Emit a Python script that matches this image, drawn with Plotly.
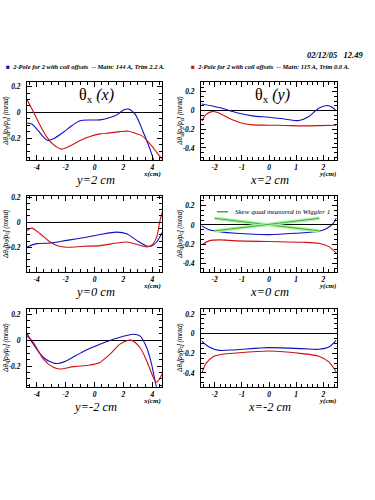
import plotly.graph_objects as go

# ---------------- data ----------------
# Panel 1: theta_x vs x at y = 2 cm
p1_blue_x = [-4.66, -4.33, -3.9, -3.53, -3.23, -2.84, -2.15, -1.57, -1.0, -0.3, 0.4, 1.07, 1.6, 2.0, 2.33, 2.8, 3.37, 3.94, 4.2]
p1_blue_y = [-0.082, -0.09, -0.14, -0.19, -0.218, -0.205, -0.154, -0.103, -0.064, -0.059, -0.058, -0.04, -0.015, 0.018, 0.026, -0.013, -0.154, -0.32, -0.42]
p1_red_x = [-4.66, -4.22, -3.76, -3.3, -2.84, -2.27, -1.69, -1.0, -0.31, 0.38, 1.07, 1.76, 2.33, 2.9, 3.25, 3.6, 4.06, 4.29, 4.66]
p1_red_y = [0.10, 0.005, -0.10, -0.19, -0.25, -0.285, -0.26, -0.218, -0.187, -0.167, -0.159, -0.149, -0.146, -0.165, -0.18, -0.215, -0.275, -0.31, -0.36]

# Panel 2: theta_x vs y at x = 2 cm
p2_blue_x = [-2.47, -1.83, -1.22, -0.61, 0.0, 0.61, 1.1, 1.47, 1.83, 2.14, 2.32, 2.47]
p2_blue_y = [0.07, 0.032, -0.021, -0.057, -0.072, -0.093, -0.107, -0.064, 0.025, 0.053, 0.035, -0.004]
p2_red_x = [-2.47, -2.32, -2.1, -1.89, -1.47, -0.97, -0.61, 0.0, 0.6, 1.22, 1.8, 2.47]
p2_red_y = [-0.115, -0.045, -0.012, -0.021, -0.082, -0.136, -0.154, -0.157, -0.16, -0.164, -0.162, -0.157]

# Panel 3: theta_x vs x at y = 0 cm
p3_blue_x = [-4.66, -3.99, -3.07, -1.92, -0.77, 0.38, 1.53, 2.22, 2.91, 3.6, 3.94, 4.29, 4.66]
p3_blue_y = [-0.198, -0.171, -0.166, -0.145, -0.124, -0.098, -0.079, -0.092, -0.145, -0.19, -0.19, -0.158, -0.085]
p3_red_x = [-4.66, -4.33, -3.76, -3.07, -2.5, -1.92, -0.77, 0.38, 1.53, 2.22, 2.91, 3.6, 3.94, 4.29, 4.52, 4.68]
p3_red_y = [-0.066, -0.047, -0.092, -0.158, -0.19, -0.2, -0.192, -0.187, -0.166, -0.158, -0.176, -0.198, -0.184, -0.119, 0.013, 0.079]

# Panel 4: theta_x vs y at x = 0 cm
p4_blue_x = [-2.47, -2.2, -1.83, -1.22, 0.0, 0.98, 1.83, 2.14, 2.38, 2.47]
p4_blue_y = [-0.01, -0.05, -0.069, -0.086, -0.1, -0.086, -0.066, -0.035, 0.02, 0.07]
p4_red_x = [-2.47, -2.2, -1.83, -1.22, 0.0, 1.22, 1.83, 2.2, 2.47]
p4_red_y = [-0.206, -0.165, -0.155, -0.165, -0.172, -0.179, -0.19, -0.224, -0.29]
skew_x = [-2.0, 1.85]
skew1_y = [0.068, -0.062]
skew2_y = [-0.062, 0.068]

# Panel 5: theta_x vs x at y = -2 cm
p5_blue_x = [-4.66, -4.22, -3.53, -2.84, -2.5, -1.92, -0.77, 0.38, 1.53, 2.68, 3.14, 3.6, 3.94, 4.17, 4.4]
p5_blue_y = [0.051, -0.031, -0.134, -0.177, -0.18, -0.159, -0.087, -0.031, 0.015, 0.046, 0.033, -0.057, -0.185, -0.31, -0.42]
p5_red_x = [-4.66, -4.22, -3.53, -2.84, -2.38, -1.46, -0.31, 0.38, 1.07, 1.76, 2.33, 2.56, 3.14, 3.6, 4.06, 4.24, 4.43, 4.66]
p5_red_y = [0.033, -0.018, -0.146, -0.21, -0.223, -0.205, -0.192, -0.172, -0.108, -0.031, 0.0, 0.0, -0.057, -0.159, -0.288, -0.326, -0.31, -0.262]

# Panel 6: theta_x vs y at x = -2 cm
p6_blue_x = [-2.47, -2.2, -1.83, -1.22, 0.0, 1.22, 1.83, 2.2, 2.47]
p6_blue_y = [-0.075, -0.136, -0.17, -0.163, -0.142, -0.152, -0.159, -0.136, -0.068]
p6_red_x = [-2.47, -2.32, -2.07, -1.71, -1.22, 0.0, 1.22, 1.83, 2.2, 2.47]
p6_red_y = [-0.4, -0.305, -0.237, -0.21, -0.197, -0.177, -0.203, -0.23, -0.288, -0.39]

y_ranges = [[-0.37, 0.24], [-0.53, 0.31], [-0.40, 0.21], [-0.49, 0.30], [-0.36, 0.24], [-0.54, 0.25]]
x_range_left = [-4.66, 4.66]
x_range_right = [-2.5, 2.5]
x_ticks_left = [-4, -2, 0, 2, 4]
x_ticks_right = [-2, -1, 0, 1, 2]
y_ticks_left = [-0.2, 0, 0.2]
y_ticks_right = [-0.4, -0.2, 0, 0.2]
bottom_labels = ["y=2 cm", "x=2 cm", "y=0 cm", "x=0 cm", "y=-2 cm", "x=-2 cm"]
legend_blue = "2-Pole for 2 with coil offsets  -- Main: 144 A, Trim 2.2 A."
legend_red = "2-Pole for 2 with coil offsets  -- Main: 115 A, Trim 0.0 A."
date_text = "02/12/05&nbsp;&nbsp;&nbsp;12.49"
ytitle = "Δθ<sub>x</sub>[p<sub>0</sub>/p<sub>c</sub>] (mrad)"

BLUE = "#1010c0"
RED = "#d01010"
W, H = 375, 500

panels = [
    (p1_blue_x, p1_blue_y, p1_red_x, p1_red_y),
    (p2_blue_x, p2_blue_y, p2_red_x, p2_red_y),
    (p3_blue_x, p3_blue_y, p3_red_x, p3_red_y),
    (p4_blue_x, p4_blue_y, p4_red_x, p4_red_y),
    (p5_blue_x, p5_blue_y, p5_red_x, p5_red_y),
    (p6_blue_x, p6_blue_y, p6_red_x, p6_red_y),
]

col_px = [(27, 162), (201, 337)]
row_px = [(79, 158), (194, 271), (308, 386)]

fig = go.Figure()
layout = {}
annotations = []
tickfont = dict(family="Liberation Serif", size=7.5, color="black", style="italic", weight="bold")

for i, (bx, by, rx, ry) in enumerate(panels):
    r, c = divmod(i, 2)
    n = i + 1
    xa = "x" if n == 1 else f"x{n}"
    ya = "y" if n == 1 else f"y{n}"
    fig.add_trace(go.Scatter(x=bx, y=by, mode="lines", line=dict(color=BLUE, width=1.1, shape="spline", smoothing=0.8),
                             xaxis=xa, yaxis=ya, showlegend=False, hoverinfo="skip"))
    fig.add_trace(go.Scatter(x=rx, y=ry, mode="lines", line=dict(color=RED, width=1.1, shape="spline", smoothing=0.8),
                             xaxis=xa, yaxis=ya, showlegend=False, hoverinfo="skip"))
    if n == 4:
        for sy in (skew1_y, skew2_y):
            fig.add_trace(go.Scatter(x=skew_x, y=sy, mode="lines", line=dict(color="#b4f0ac", width=3.5),
                                     xaxis=xa, yaxis=ya, showlegend=False, hoverinfo="skip"))
            fig.add_trace(go.Scatter(x=skew_x, y=sy, mode="lines", line=dict(color="#30b830", width=1),
                                     xaxis=xa, yaxis=ya, showlegend=False, hoverinfo="skip"))
    x0, x1 = col_px[c]
    y0, y1 = row_px[r]
    left = c == 0
    xk = "xaxis" if n == 1 else f"xaxis{n}"
    yk = "yaxis" if n == 1 else f"yaxis{n}"
    layout[xk] = dict(
        domain=[x0 / W, x1 / W], anchor=ya, range=x_range_left if left else x_range_right,
        tickvals=x_ticks_left if left else x_ticks_right,
        ticktext=[str(v) for v in (x_ticks_left if left else x_ticks_right)],
        ticks="inside", ticklen=5, tickcolor="black", tickwidth=1,
        minor=dict(ticks="inside", ticklen=3, dtick=0.5 if left else 0.2, tick0=0, tickcolor="black", showgrid=False),
        showline=True, linecolor="black", linewidth=1, mirror="allticks",
        showgrid=False, zeroline=False, tickfont=tickfont, ticklabelstandoff=0,
    )
    yt = y_ticks_left if left else y_ticks_right
    layout[yk] = dict(
        domain=[1 - y1 / H, 1 - y0 / H], anchor=xa, range=y_ranges[i],
        tickvals=yt, ticktext=[("0" if v == 0 else f"{v:.1f}") for v in yt],
        ticks="inside", ticklen=5, tickcolor="black", tickwidth=1,
        minor=dict(ticks="inside", ticklen=3, dtick=0.05, tick0=0, tickcolor="black", showgrid=False),
        showline=True, linecolor="black", linewidth=1, mirror="allticks",
        showgrid=False, zeroline=True, zerolinecolor="black", zerolinewidth=1.2,
        tickfont=tickfont, ticklabelstandoff=4,
    )
    # bottom label
    annotations.append(dict(text=f"<i>{bottom_labels[i]}</i>", xref="paper", yref="paper",
                            x=((x0 + x1) / 2) / W, y=1 - (y1 + 20) / H, xanchor="center", yanchor="middle",
                            showarrow=False, font=dict(family="Liberation Serif", size=12.5, color="black")))
    # axis title x
    annotations.append(dict(text="<i>x(cm)</i>" if left else "<i>y(cm)</i>", xref="paper", yref="paper",
                            x=(x1 + 1) / W, y=1 - (y1 + 14) / H, xanchor="right", yanchor="middle",
                            showarrow=False, font=dict(family="Liberation Serif", size=7, color="black", weight="bold")))
    # y title
    annotations.append(dict(text=ytitle, xref="paper", yref="paper", textangle=-90,
                            x=(x0 - 21) / W, y=1 - ((y0 + y1) / 2) / H, xanchor="center", yanchor="middle",
                            showarrow=False, font=dict(family="Liberation Sans", size=6.5, color="black", style="italic")))

# panel titles
annotations.append(dict(text="θ<sub>x</sub> <i>(x)</i>", xref="paper", yref="paper",
                        x=96 / W, y=1 - 93 / H, xanchor="center", yanchor="middle", showarrow=False,
                        font=dict(family="Liberation Serif", size=16, color="black")))
annotations.append(dict(text="θ<sub>x</sub> <i>(y)</i>", xref="paper", yref="paper",
                        x=272 / W, y=1 - 93 / H, xanchor="center", yanchor="middle", showarrow=False,
                        font=dict(family="Liberation Serif", size=16, color="black")))

# skew legend in panel 4
annotations.append(dict(text="<i>Skew quad measured in Wiggler 1</i>", xref="paper", yref="paper",
                        x=233 / W, y=1 - 210 / H, xanchor="left", yanchor="middle", showarrow=False,
                        font=dict(family="Liberation Serif", size=7, color="black")))
fig.add_shape(type="line", xref="paper", yref="paper", x0=217 / W, x1=228 / W, y0=1 - 210 / H, y1=1 - 210 / H,
              line=dict(color="#30b830", width=1.5))

# top legend
annotations.append(dict(text=f"<span style='color:{BLUE}'>■</span>  <i>{legend_blue}</i>", xref="paper", yref="paper",
                        x=4 / W, y=1 - 64 / H, xanchor="left", yanchor="middle", showarrow=False,
                        font=dict(family="Liberation Serif", size=6.5, color="black", weight="bold")))
annotations.append(dict(text=f"<span style='color:{RED}'>■</span>  <i>{legend_red}</i>", xref="paper", yref="paper",
                        x=189 / W, y=1 - 64 / H, xanchor="left", yanchor="middle", showarrow=False,
                        font=dict(family="Liberation Serif", size=6.5, color="black", weight="bold")))
annotations.append(dict(text=f"<i>{date_text}</i>", xref="paper", yref="paper",
                        x=365 / W, y=1 - 52 / H, xanchor="right", yanchor="middle", showarrow=False,
                        font=dict(family="Liberation Serif", size=8.5, color="black", weight="bold")))

fig.update_layout(
    width=W, height=H, margin=dict(l=0, r=0, t=0, b=0),
    paper_bgcolor="white", plot_bgcolor="white", showlegend=False,
    annotations=annotations, **layout,
)
fig.write_html("out.html", config={"displayModeBar": False},
               post_script="document.body.style.margin='0';document.body.style.padding='0';")
